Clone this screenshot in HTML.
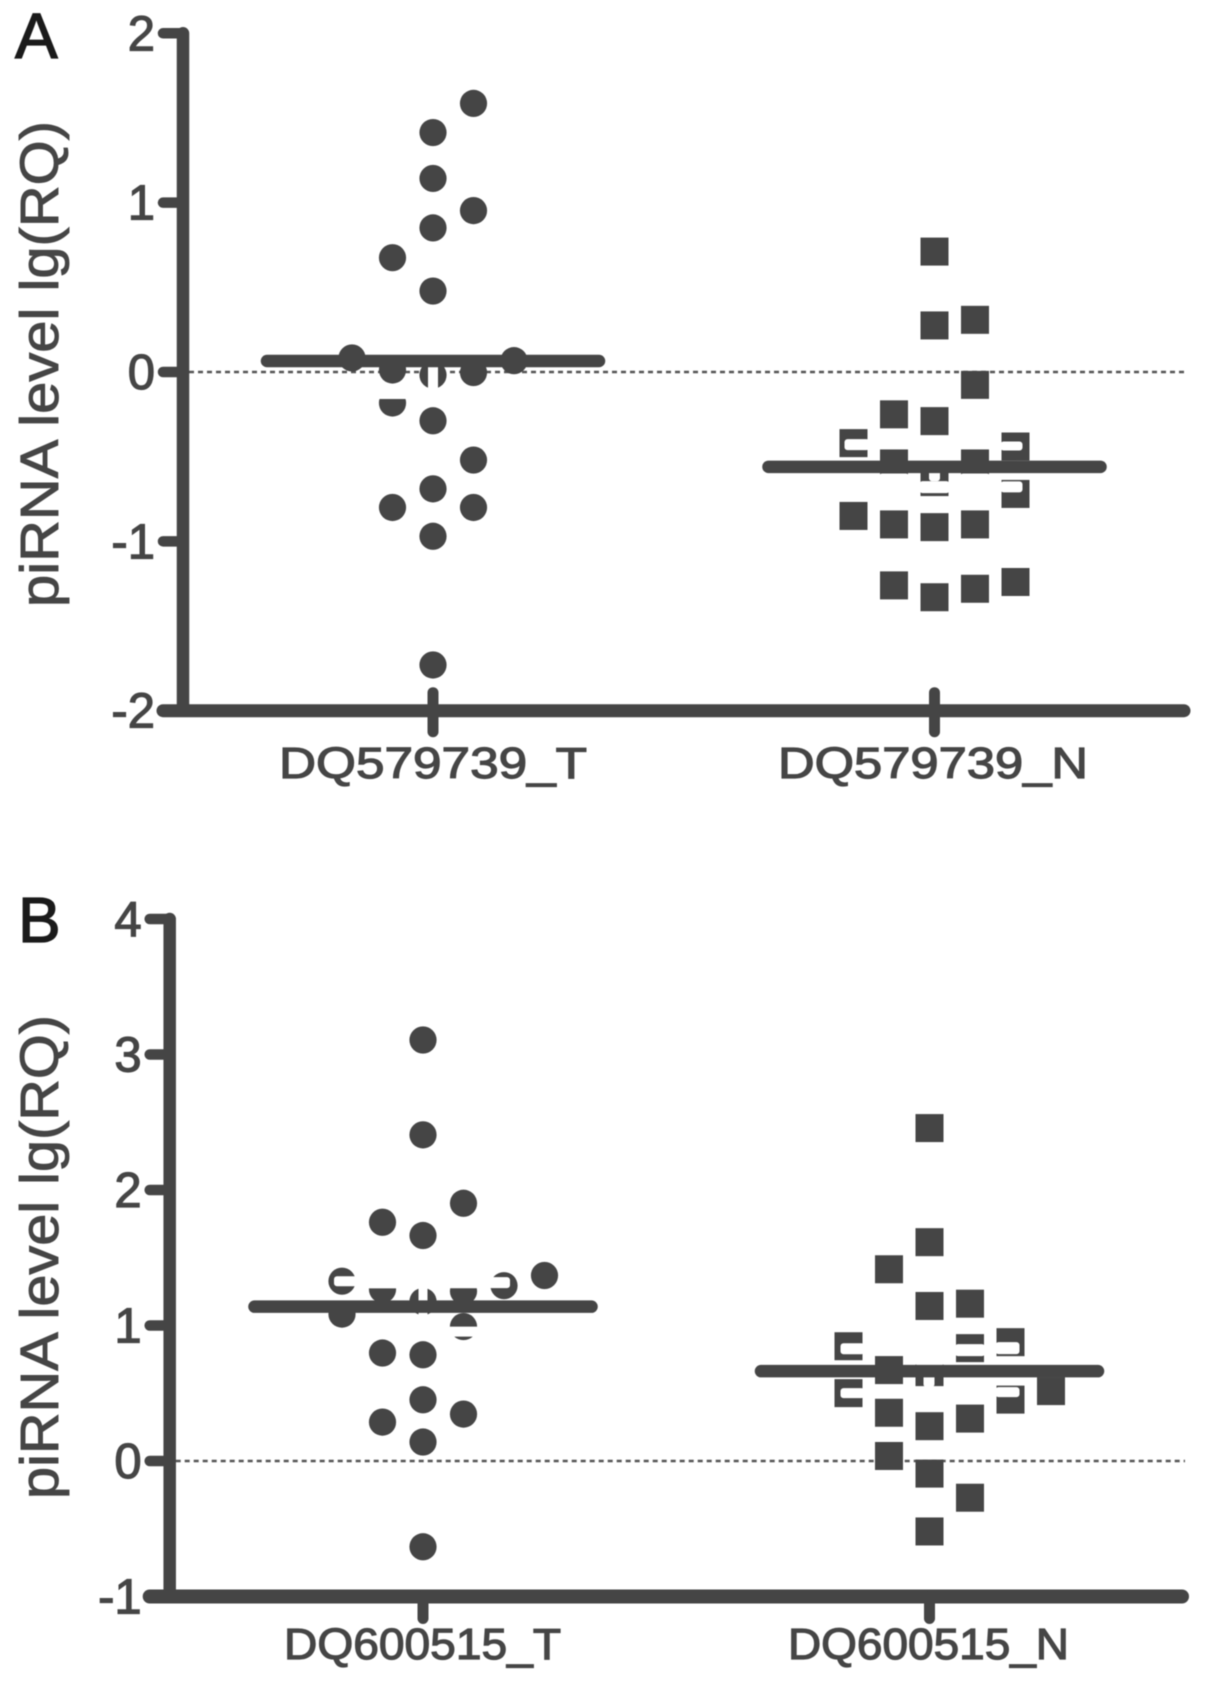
<!DOCTYPE html>
<html lang="en">
<head>
<meta charset="utf-8">
<title>piRNA level scatter plots</title>
<style>
html,body{margin:0;padding:0;background:#fff;}
svg{display:block;filter:blur(0.55px);}
text{font-family:"Liberation Sans",sans-serif;fill:#454545;}
</style>
</head>
<body>
<svg id="figure" xmlns="http://www.w3.org/2000/svg" width="1205" height="1683" viewBox="0 0 1205 1683"></svg>
<script>
// ---- Panel A data ----
const panelATicks = [2, 1, 0, -1, -2];
const panelACategories = ['DQ579739_T', 'DQ579739_N'];
const panelATumorValues = [1.586, 1.414, 1.143, 0.953, 0.851, 0.675, 0.478, 0.083, 0.067, 0.012, -0.003, -0.018, -0.183, -0.288, -0.52, -0.69, -0.80, -0.80, -0.97, -1.73];
const panelATumorSlots = [1, 0, 0, 1, 0, -1, 0, -2, 2, -1, 1, 0, -1, 0, 1, 0, -1, 1, 0, 0];
const panelANormalValues = [0.711, 0.275, 0.308, -0.076, -0.25, -0.29, -0.42, -0.44, -0.54, -0.54, -0.65, -0.72, -0.85, -0.90, -0.916, -0.90, -1.26, -1.33, -1.28, -1.24];
const panelANormalSlots = [0, 0, 1, 1, -1, 0, -2, 2, -1, 1, 0, 2, -2, -1, 0, 1, -1, 0, 1, 2];
const panelAMeans = [0.065, -0.56];

// ---- Panel B data ----
const panelBTicks = [4, 3, 2, 1, 0, -1];
const panelBCategories = ['DQ600515_T', 'DQ600515_N'];
const panelBTumorValues = [3.107, 2.407, 1.902, 1.762, 1.664, 1.369, 1.327, 1.294, 1.267, 1.253, 1.177, 1.084, 0.992, 0.797, 0.784, 0.452, 0.346, 0.287, 0.14, -0.633];
const panelBTumorSlots = [0, 0, 1, -1, 0, 3, -2, 2, -1, 1, 0, -2, 1, -1, 0, 0, 1, -1, 0, 0];
const panelBNormalValues = [2.457, 1.615, 1.415, 1.144, 1.161, 0.847, 0.833, 0.877, 0.671, 0.656, 0.516, 0.501, 0.453, 0.356, 0.257, 0.313, 0.037, -0.093, -0.271, -0.52];
const panelBNormalSlots = [0, 0, -1, 0, 1, -2, 1, 2, -1, 0, 3, -2, 2, -1, 0, 1, -1, 0, 1, 0];
const panelBMeans = [1.139, 0.663];

const svg = document.getElementById('figure');
const NS = 'http://www.w3.org/2000/svg';
const INK = '#454545';

function make(tag, attrs, parent) {
  const el = document.createElementNS(NS, tag);
  for (const k in attrs) el.setAttribute(k, attrs[k]);
  parent.appendChild(el);
  return el;
}

// White knock-outs seen in the source image, relative to each marker: [dx, dy, w, h]
const knockouts = {
  aT: {11: [[-5, -16, 10, 32]], 12: [[-16, -18, 32, 14]]},
  aN: {
    6: [[-9, -4, 25, 11]],
    7: [[-15, -5, 22, 9]],
    8: [[-15, 10, 30, 6]],
    9: [[-15, 10, 30, 6]],
    10: [[-15, -1, 30, 12], [-5.5, -15, 11, 14]],
    11: [[-15, -12.5, 22, 11]]
  },
  bT: {
    6: [[-8, -5, 24, 10]],
    7: [[-16, -8.5, 22, 11]],
    8: [[-16, -16, 32, 15]],
    9: [[-16, -17, 32, 14]],
    10: [[-4.5, -16, 9, 32]],
    12: [[-16, 0, 32, 10]]
  },
  bN: {
    5: [[-8, -3, 24, 11]],
    6: [[-15, -4, 30, 12]],
    7: [[-15, 0, 24, 12]],
    9: [[-15, -15, 30, 8], [-6, 0, 11, 15]],
    11: [[-8, -5, 24, 10]],
    12: [[-15, -12.5, 24, 10]]
  }
};

function drawPanel(cfg) {
  const g = make('g', {}, svg);
  
  

  const y = v => cfg.zeroY - v * cfg.unit;
  const xAt = (col, slot) => cfg.centers[col] + slot * cfg.step;

  // reference line at zero
  const ref = make('line', {x1: cfg.axisX + 6, x2: cfg.refEnd, y1: y(0), y2: y(0), stroke: '#555', 'stroke-width': 2.4, 'stroke-dasharray': '5 4'}, g);
  
  

  // tumor circles
  cfg.tumor.forEach((v, i) => {
    const c = make('circle', {cx: xAt(0, cfg.tumorSlots[i]), cy: y(v), r: 13.6, fill: INK}, g);
    
    
  });
  // normal squares
  cfg.normal.forEach((v, i) => {
    const s = make('rect', {x: xAt(1, cfg.normalSlots[i]) - 14, y: y(v) - 14, width: 28, height: 28, fill: INK}, g);
    
    
  });
  // knock-outs
  [[cfg.tumor, cfg.tumorSlots, knockouts[cfg.key + 'T'], 0], [cfg.normal, cfg.normalSlots, knockouts[cfg.key + 'N'], 1]].forEach(set => {
    const vals = set[0], slots = set[1], table = set[2], col = set[3];
    Object.keys(table).forEach(idx => {
      table[idx].forEach(r => {
        const w = make('rect', {x: xAt(col, slots[idx]) + r[0], y: y(vals[idx]) + r[1], width: r[2], height: r[3], rx: 3, fill: '#fff'}, g);
        
        
      });
    });
  });

  // mean lines
  cfg.means.forEach((m, i) => {
    const l = make('line', {x1: cfg.centers[i] - cfg.meanHalf + 6, x2: cfg.centers[i] + cfg.meanHalf - 6, y1: y(m), y2: y(m), stroke: INK, 'stroke-width': 12.5, 'stroke-linecap': 'round'}, g);
    
    
  });

  // y axis
  const yTop = y(cfg.ticks[0]);
  const yBottom = y(cfg.ticks[cfg.ticks.length - 1]);
  const yAxis = make('line', {x1: cfg.axisX, x2: cfg.axisX, y1: yTop, y2: yBottom, stroke: INK, 'stroke-width': 12.5, 'stroke-linecap': 'round'}, g);
  
  

  cfg.ticks.forEach(t => {
    const tick = make('line', {x1: cfg.axisX - 20, x2: cfg.axisX, y1: y(t), y2: y(t), stroke: INK, 'stroke-width': 10.5, 'stroke-linecap': 'round'}, g);
    
    
    const lab = make('text', {x: cfg.axisX - 28, y: y(t) + 17, 'text-anchor': 'end', 'font-size': 49, stroke: INK, 'stroke-width': 1.2}, g);
    lab.textContent = String(t);
    
    
  });

  // x axis
  const xAxis = make('line', {x1: cfg.axisX - 20, x2: cfg.axisEnd, y1: yBottom, y2: yBottom, stroke: INK, 'stroke-width': cfg.xAxisWidth, 'stroke-linecap': 'round'}, g);
  
  

  cfg.categories.forEach((name, i) => {
    const tick = make('line', {x1: cfg.centers[i], x2: cfg.centers[i], y1: yBottom + cfg.tickUp, y2: yBottom + cfg.tickDown, stroke: INK, 'stroke-width': 11, 'stroke-linecap': 'round'}, g);
    
    
    const lab = make('text', {x: cfg.labelX[i], y: cfg.labelY, 'font-size': 44, textLength: cfg.labelW[i], lengthAdjust: 'spacingAndGlyphs', stroke: INK, 'stroke-width': 1.2}, g);
    lab.textContent = name;
    
    
  });

  // y title
  const title = make('text', {transform: 'translate(' + cfg.titleX + ' ' + cfg.titleY + ') rotate(-90)', 'font-size': 54, textLength: cfg.titleW, lengthAdjust: 'spacingAndGlyphs', stroke: INK, 'stroke-width': 0.9}, g);
  title.textContent = 'piRNA level lg(RQ)';
  
  

  // panel letter
  const letter = make('text', {x: cfg.letterX, y: cfg.letterY, 'font-size': 64, stroke: '#1a1a1a', 'stroke-width': 1.3, style: 'fill:#1a1a1a'}, g);
  letter.textContent = cfg.letter;
  
  
}

drawPanel({
  id: 'panel-a', key: 'a', letter: 'A', letterX: 15, letterY: 58,
  zeroY: 372, unit: 169.35, axisX: 183, axisEnd: 1184, refEnd: 1186, xAxisWidth: 13,
  centers: [433, 934.5], step: 40.5, meanHalf: 172,
  ticks: panelATicks, categories: panelACategories,
  tumor: panelATumorValues, tumorSlots: panelATumorSlots,
  normal: panelANormalValues, normalSlots: panelANormalSlots, means: panelAMeans,
  tickUp: -18, tickDown: 21,
  labelX: [279, 778], labelW: [308, 310], labelY: 778,
  titleX: 58, titleY: 607, titleW: 486
});

drawPanel({
  id: 'panel-b', key: 'b', letter: 'B', letterX: 18, letterY: 942,
  zeroY: 1461, unit: 135.5, axisX: 169.7, axisEnd: 1182, refEnd: 1185, xAxisWidth: 14,
  centers: [423, 929.5], step: 40.5, meanHalf: 174.5,
  ticks: panelBTicks, categories: panelBCategories,
  tumor: panelBTumorValues, tumorSlots: panelBTumorSlots,
  normal: panelBNormalValues, normalSlots: panelBNormalSlots, means: panelBMeans,
  tickUp: 0, tickDown: 22,
  labelX: [284, 788], labelW: [277, 281], labelY: 1659,
  titleX: 58, titleY: 1499, titleW: 484
});
</script>
</body>
</html>
